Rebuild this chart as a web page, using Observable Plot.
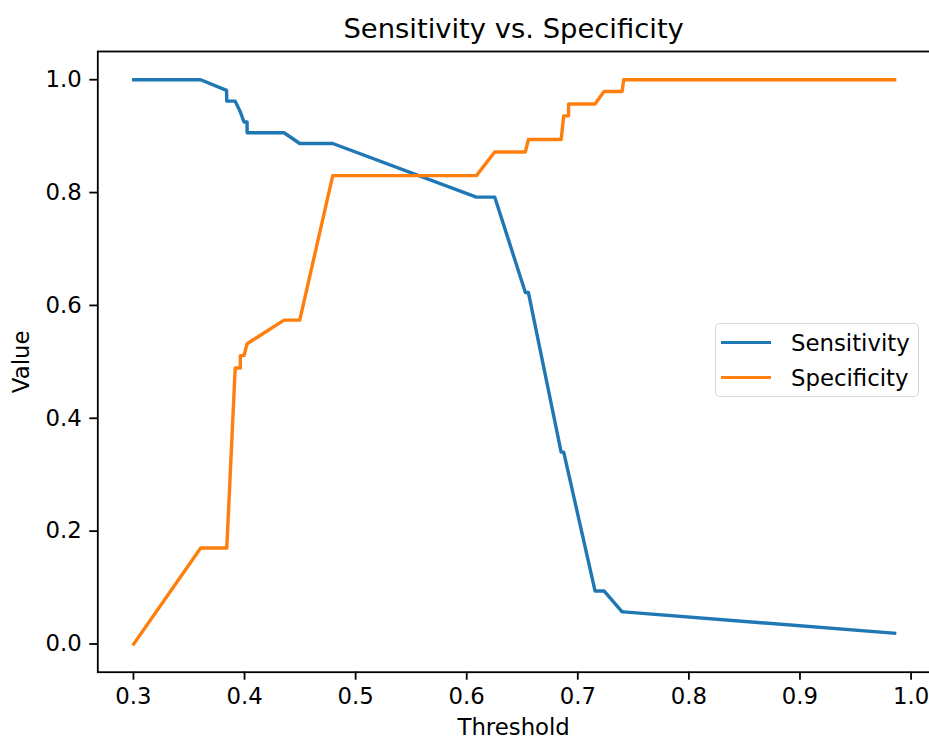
<!DOCTYPE html>
<html>
<head>
<meta charset="utf-8">
<script src="https://cdn.jsdelivr.net/npm/d3@7"></script>
<script src="https://cdn.jsdelivr.net/npm/@observablehq/plot@0.6"></script>
<style>
  html, body { margin: 0; padding: 0; background: white; overflow: hidden; }
  #wrap { position: relative; width: 929px; height: 740px; overflow: hidden; font-family: "DejaVu Sans", sans-serif; }
  #legend { position: absolute; left: 715px; top: 322.5px; width: 202px; height: 72px;
    border: 1.8px solid rgba(204,204,204,0.8); border-radius: 5px; background: rgba(255,255,255,0.8); box-sizing: content-box; }
  .row { position: absolute; left: 0; height: 0; }
  .swatch { position: absolute; left: 5px; width: 50px; height: 3.4px; margin-top: -1.7px; }
  .lab { position: absolute; left: 75px; font-size: 22.8px; line-height: 1; transform: translateY(-50%); white-space: nowrap; color: black; }
</style>
</head>
<body>
<div id="wrap"></div>
<script>
const title = "Sensitivity vs. Specificity";
const xLabel = "Threshold";
const yLabel = "Value";
const seriesNames = ["Sensitivity", "Specificity"];
const seriesColors = ["#1f77b4", "#ff7f0e"];
const xTicks = [0.3, 0.4, 0.5, 0.6, 0.7, 0.8, 0.9, 1.0];
const yTicks = [0.0, 0.2, 0.4, 0.6, 0.8, 1.0];

const thresholds = [0.3003, 0.3605, 0.3838, 0.3840, 0.3916, 0.3962, 0.3962, 0.3995, 0.4023, 0.4023,
  0.4356, 0.4497, 0.4794, 0.6087, 0.6252, 0.6528, 0.6555, 0.6850, 0.6873, 0.6917, 0.6917,
  0.7155, 0.7236, 0.7399, 0.7413, 0.9852];
const sensitivity = [1.0, 1.0, 0.981, 0.962, 0.962, 0.943, 0.943, 0.925, 0.925, 0.906,
  0.906, 0.887, 0.887, 0.792, 0.792, 0.623, 0.623, 0.340, 0.340, 0.302, 0.302,
  0.094, 0.094, 0.057, 0.057, 0.019];
const specificity = [0.0, 0.170, 0.170, 0.170, 0.489, 0.489, 0.511, 0.511, 0.532, 0.532,
  0.574, 0.574, 0.830, 0.830, 0.872, 0.872, 0.894, 0.894, 0.936, 0.936, 0.957,
  0.957, 0.979, 0.979, 1.0, 1.0];

const data = [];
thresholds.forEach((t, i) => {
  data.push({t, v: sensitivity[i], s: seriesNames[0]});
});
thresholds.forEach((t, i) => {
  data.push({t, v: specificity[i], s: seriesNames[1]});
});

const fs = 22.8;
const chart = Plot.plot({
  width: 929,
  height: 740,
  marginLeft: 97.3,
  marginRight: 0,
  marginTop: 51,
  marginBottom: 68.3,
  x: {domain: [0.2679, 1.0166]},
  y: {domain: [-0.05, 1.05]},
  color: {domain: seriesNames, range: seriesColors},
  style: {fontFamily: "DejaVu Sans", fontSize: fs + "px", color: "black", background: "white", overflow: "hidden"},
  marks: [
    Plot.line(data, {x: "t", y: "v", z: "s", stroke: "s", strokeWidth: 3.4, strokeLinejoin: "round", strokeLinecap: "square"}),
    Plot.frame({stroke: "black", strokeWidth: 1.8, insetRight: -2}),
    Plot.axisX(xTicks, {tickFormat: d => d.toFixed(1), tickSize: 8, tickPadding: 8, strokeWidth: 1.8, label: null, fill: "black", stroke: "black"}),
    Plot.axisY(yTicks, {tickFormat: d => d.toFixed(1), tickSize: 8, tickPadding: 8, strokeWidth: 1.8, label: null, fill: "black", stroke: "black"}),
    Plot.text([title], {frameAnchor: "top", dy: -13.7, lineAnchor: "bottom", textAnchor: "middle", fontSize: 27.4, fill: "black"}),
    Plot.text([xLabel], {frameAnchor: "bottom", dy: 47, lineAnchor: "top", textAnchor: "middle", fontSize: fs, fill: "black"}),
    Plot.text([yLabel], {frameAnchor: "left", dx: -76.3, rotate: -90, lineAnchor: "middle", textAnchor: "middle", fontSize: fs, fill: "black"})
  ]
});

const wrap = document.getElementById("wrap");
wrap.appendChild(chart);

const legend = document.createElement("div");
legend.id = "legend";
const rowY = [19, 54];
seriesNames.forEach((name, i) => {
  const row = document.createElement("div");
  row.className = "row";
  row.style.top = rowY[i] + "px";
  const sw = document.createElement("div");
  sw.className = "swatch";
  sw.style.background = seriesColors[i];
  const lab = document.createElement("div");
  lab.className = "lab";
  lab.textContent = name;
  row.appendChild(sw);
  row.appendChild(lab);
  legend.appendChild(row);
});
wrap.appendChild(legend);
</script>
</body>
</html>
